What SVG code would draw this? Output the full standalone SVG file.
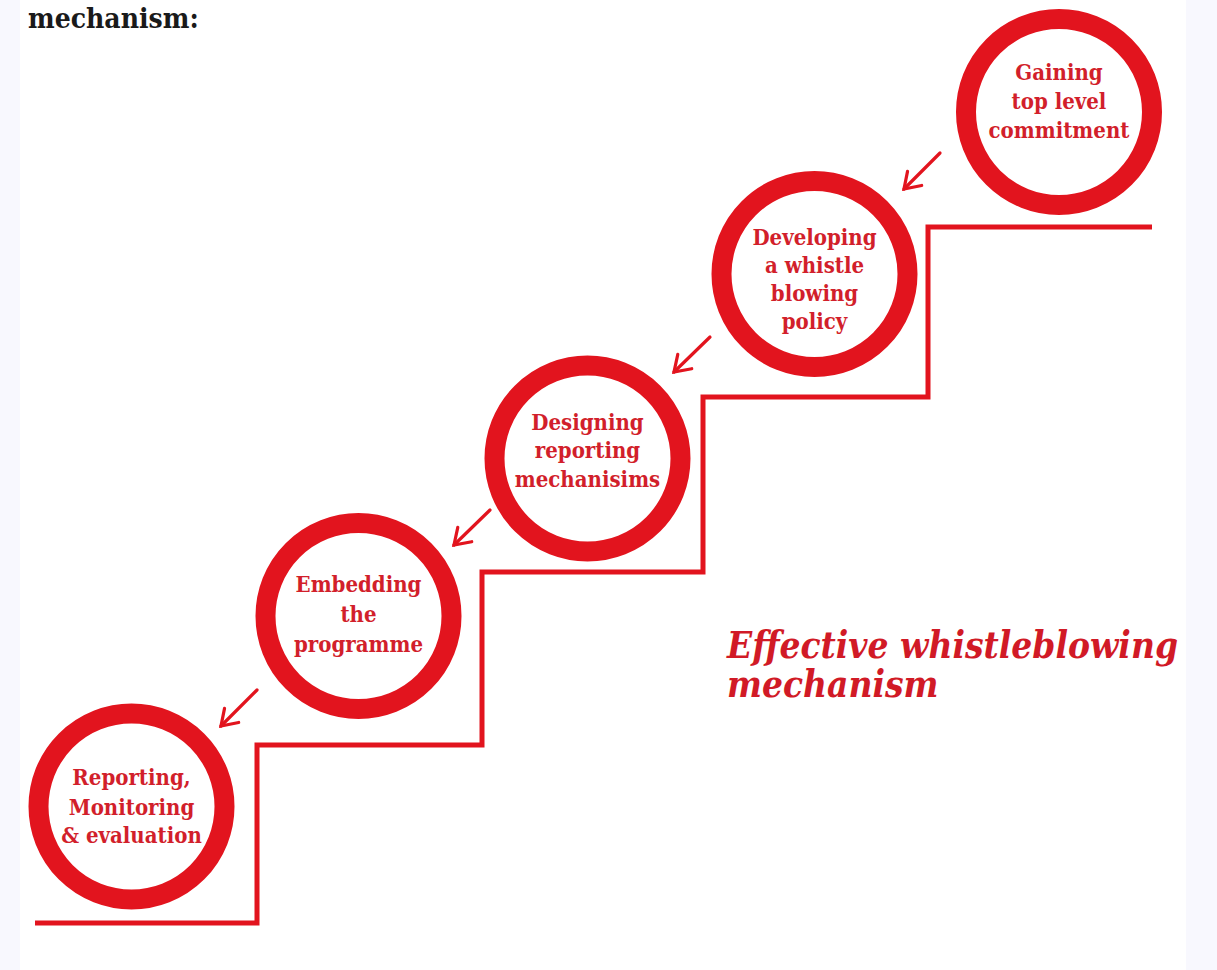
<svg xmlns="http://www.w3.org/2000/svg" width="1217" height="970" viewBox="0 0 1217 970">
  <defs>
    <style>
      .ring { fill: none; stroke: #e2141e; stroke-width: 20; }
      .step { fill: none; stroke: #e2141e; stroke-width: 5; stroke-linejoin: miter; }
      .arrow { fill: none; stroke: #e2141e; stroke-width: 3.2; stroke-linecap: round; }
      .label { font-family: "DejaVu Serif Condensed", "DejaVu Serif", "Liberation Serif", serif; font-weight: bold; font-size: 22px; fill: #d21f2b; text-anchor: middle; }
      .title { font-family: "DejaVu Serif Condensed", "DejaVu Serif", "Liberation Serif", serif; font-weight: bold; font-style: italic; font-size: 36.7px; fill: #d11a26; }
      .heading { font-family: "DejaVu Serif Condensed", "DejaVu Serif", "Liberation Serif", serif; font-weight: bold; font-size: 28px; fill: #1a1a1a; }
    </style>
    <marker id="head" markerUnits="userSpaceOnUse" markerWidth="30" markerHeight="30" refX="0" refY="0" viewBox="-20 -15 30 30" orient="auto">
      <path d="M -15 -10 L 0 0 L -15 10" fill="none" stroke="#e2141e" stroke-width="3.2" stroke-linecap="round" stroke-linejoin="miter"/>
    </marker>
  </defs>

  <!-- page -->
  <rect x="0" y="0" width="1217" height="970" fill="#f8f8fe"/>
  <rect x="20" y="0" width="1166" height="970" fill="#ffffff"/>

  <text class="heading" x="28" y="28">mechanism:</text>

  <!-- staircase -->
  <g id="staircase">
    <polyline class="step" points="35,923 257,923 257,745 482,745 482,572 703,572 703,397 928,397 928,227 1152,227"/>
  </g>

  <!-- steps -->
  <g id="step-gaining">
    <circle class="ring" cx="1059" cy="112" r="93"/>
    <text class="label" x="1059" y="80">Gaining</text>
    <text class="label" x="1059" y="109">top level</text>
    <text class="label" x="1059" y="138">commitment</text>
  </g>
  <g id="step-developing">
    <circle class="ring" cx="814.5" cy="274" r="93"/>
    <text class="label" x="814.5" y="245">Developing</text>
    <text class="label" x="814.5" y="273">a whistle</text>
    <text class="label" x="814.5" y="301">blowing</text>
    <text class="label" x="814.5" y="329">policy</text>
  </g>
  <g id="step-designing">
    <circle class="ring" cx="587.5" cy="458.5" r="93"/>
    <text class="label" x="587.5" y="430">Designing</text>
    <text class="label" x="587.5" y="458">reporting</text>
    <text class="label" x="587.5" y="487">mechanisims</text>
  </g>
  <g id="step-embedding">
    <circle class="ring" cx="358.5" cy="616" r="93"/>
    <text class="label" x="358.5" y="592">Embedding</text>
    <text class="label" x="358.5" y="622">the</text>
    <text class="label" x="358.5" y="652">programme</text>
  </g>
  <g id="step-reporting">
    <circle class="ring" cx="131.5" cy="806.5" r="93"/>
    <text class="label" x="131.5" y="785">Reporting,</text>
    <text class="label" x="131.5" y="815">Monitoring</text>
    <text class="label" x="131.5" y="843">&amp; evaluation</text>
  </g>

  <!-- connectors -->
  <g id="connectors">
    <line class="arrow" x1="940" y1="153" x2="904" y2="189" marker-end="url(#head)"/>
    <line class="arrow" x1="710" y1="337" x2="674" y2="372" marker-end="url(#head)"/>
    <line class="arrow" x1="490" y1="510" x2="454" y2="545" marker-end="url(#head)"/>
    <line class="arrow" x1="257" y1="690" x2="221" y2="726" marker-end="url(#head)"/>
  </g>

  <g id="caption">
    <text class="title" x="727" y="658">Effective whistleblowing</text>
    <text class="title" x="727" y="697">mechanism</text>
  </g>
</svg>
